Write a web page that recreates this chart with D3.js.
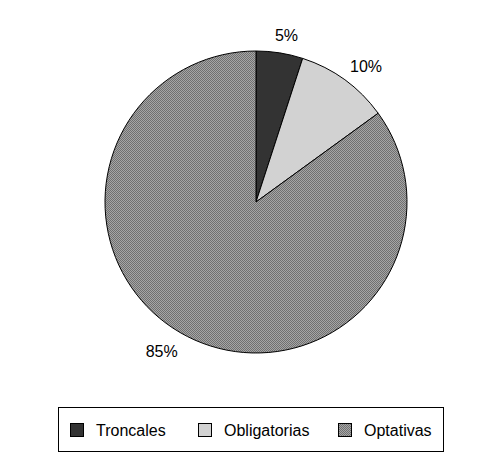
<!DOCTYPE html>
<html><head><meta charset="utf-8">
<script src="https://cdn.jsdelivr.net/npm/d3@7"></script>
<style>body{margin:0;background:#fff}svg{display:block}</style>
</head><body>
<svg id="c" width="502" height="470"></svg>
<script>
const categories = ["Troncales", "Obligatorias", "Optativas"];
const values = [5, 10, 85];
const labels = ["5%", "10%", "85%"];
const labelNudgeDeg = [1.4, 3.1, 5.2];
const labelRadius = [169, 174.5, 177];

const svg = d3.select("#c");
const defs = svg.append("defs");
const pat = defs.append("pattern").attr("id","dith").attr("width",2).attr("height",2).attr("patternUnits","userSpaceOnUse");
pat.append("rect").attr("width",2).attr("height",2).attr("fill","#a6a6a6");
pat.append("rect").attr("width",1).attr("height",1).attr("fill","#707070");
pat.append("rect").attr("x",1).attr("y",1).attr("width",1).attr("height",1).attr("fill","#707070");

const fills = d3.scaleOrdinal().domain(categories).range(["#333333","#d2d2d2","url(#dith)"]);
const cx = 256, cy = 202, r = 151;
const pie = d3.pie().sort(null).value(d => d)(values);
const arc = d3.arc().innerRadius(0).outerRadius(r);
const g = svg.append("g").attr("transform",`translate(${cx},${cy})`);
g.selectAll("path").data(pie).join("path")
  .attr("d", arc)
  .attr("fill", (d,i) => fills(categories[i]))
  .attr("stroke","#000").attr("stroke-width",1);

const ang = (d,i) => (d.startAngle+d.endAngle)/2 + labelNudgeDeg[i]*Math.PI/180;
g.selectAll("text").data(pie).join("text")
  .attr("x",(d,i)=>labelRadius[i]*Math.sin(ang(d,i)))
  .attr("y",(d,i)=>-labelRadius[i]*Math.cos(ang(d,i)))
  .attr("text-anchor","middle").attr("dominant-baseline","central")
  .attr("font-family","Liberation Sans, Arial, sans-serif").attr("font-size",16)
  .attr("fill","#000")
  .text((d,i)=>labels[i]);

// legend
const lg = svg.append("g");
lg.append("rect").attr("x",58.5).attr("y",407.5).attr("width",385).attr("height",44)
  .attr("fill","#fff").attr("stroke","#000").attr("stroke-width",1);
const lxPos = [70,198,338];
const items = lg.selectAll("g.item").data(categories).join("g").attr("class","item")
  .attr("transform",(d,i)=>`translate(${lxPos[i]},0)`);
items.append("rect").attr("x",0.5).attr("y",423.5).attr("width",13).attr("height",13)
  .attr("fill",d=>fills(d)).attr("stroke","#000").attr("stroke-width",1);
items.append("text").attr("x",26).attr("y",435.5)
  .attr("font-family","Liberation Sans, Arial, sans-serif").attr("font-size",16)
  .attr("fill","#000").text(d=>d);
</script>
</body></html>
